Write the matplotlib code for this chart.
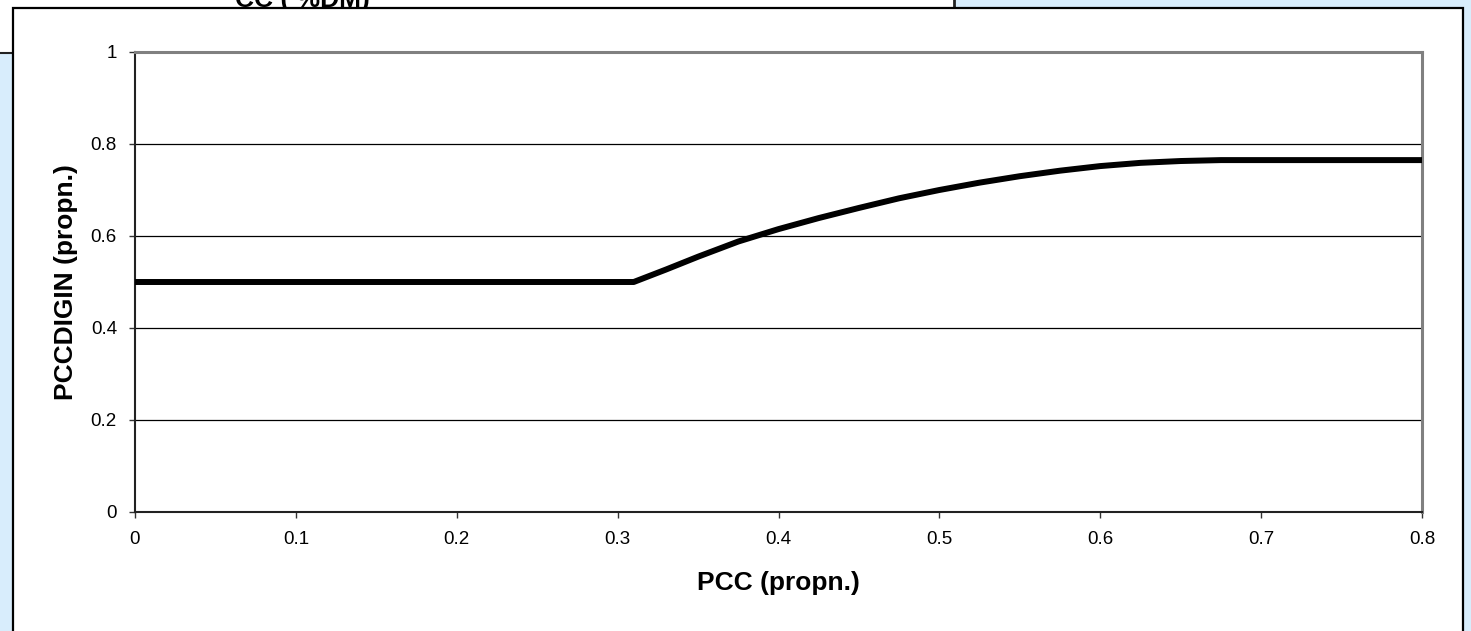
import matplotlib.pyplot as plt
import matplotlib.patches as patches
from matplotlib.lines import Line2D

W, H = 1471, 631

# curve
pcc = [0.0, 0.31, 0.33, 0.35, 0.375, 0.40, 0.425, 0.45, 0.475, 0.50,
       0.525, 0.55, 0.575, 0.60, 0.625, 0.65, 0.675, 0.80]
pccdigin = [0.5, 0.5, 0.527, 0.555, 0.588, 0.615, 0.639, 0.661, 0.682, 0.700,
            0.716, 0.730, 0.742, 0.752, 0.759, 0.763, 0.765, 0.765]

x_ticks = [0, 0.1, 0.2, 0.3, 0.4, 0.5, 0.6, 0.7, 0.8]
x_tick_labels = ["0", "0.1", "0.2", "0.3", "0.4", "0.5", "0.6", "0.7", "0.8"]
y_ticks = [0, 0.2, 0.4, 0.6, 0.8, 1.0]
y_tick_labels = ["0", "0.2", "0.4", "0.6", "0.8", "1"]

BLUE = "#D8EDFC"
FONT = "Liberation Sans"


def fx(px):
    return px / W


def fy(py):
    return 1 - py / H


fig = plt.figure(figsize=(W / 100, H / 100), dpi=100, facecolor=BLUE)

# bits of the neighbouring chart behind this one
fig.patches.append(
    patches.Rectangle((0, fy(8)), fx(954), 8 / H, transform=fig.transFigure,
                      facecolor="white", edgecolor="none", zorder=-3)
)
fig.patches.append(
    patches.Rectangle((0, fy(53)), fx(13), 53 / H, transform=fig.transFigure,
                      facecolor="white", edgecolor="none", zorder=-3)
)
fig.lines.append(Line2D([fx(954), fx(954)], [fy(0), fy(8)], transform=fig.transFigure,
                        color="#222222", lw=2, zorder=-2))
fig.lines.append(Line2D([0, fx(13)], [fy(53), fy(53)], transform=fig.transFigure,
                        color="#222222", lw=1.5, zorder=-2))
fig.text(fx(235), fy(7), "CC ( %DM)", fontsize=19, fontweight="bold",
         family=FONT, va="baseline", ha="left", zorder=-2)

# white chart frame
fig.patches.append(
    patches.Rectangle((fx(13), -0.05), fx(1463 - 13), fy(8) + 0.05, transform=fig.transFigure,
                      facecolor="white", edgecolor="black", lw=1.6, zorder=-1)
)

ax = fig.add_axes([fx(135), fy(512), fx(1422 - 135), (512 - 52) / H])
ax.set_facecolor("white")

ax.plot(pcc, pccdigin, color="black", lw=4.3, solid_capstyle="butt",
        solid_joinstyle="round", zorder=3)

ax.set_xlim(0, 0.8)
ax.set_ylim(0, 1)
ax.set_xticks(x_ticks)
ax.set_xticklabels(x_tick_labels, family=FONT, fontsize=13.5)
ax.set_yticks(y_ticks)
ax.set_yticklabels(y_tick_labels, family=FONT, fontsize=13.5)
ax.tick_params(axis="x", direction="out", length=4, width=1, pad=10, color="#333333")
ax.tick_params(axis="y", direction="out", length=4, width=1, pad=9, color="#333333")

for y in y_ticks[1:-1]:
    ax.axhline(y, color="black", lw=0.9, zorder=1)

ax.spines["top"].set_color("#808080")
ax.spines["top"].set_linewidth(2.2)
ax.spines["right"].set_color("#808080")
ax.spines["right"].set_linewidth(2.2)
ax.spines["left"].set_color("#222222")
ax.spines["left"].set_linewidth(1.5)
ax.spines["bottom"].set_color("#222222")
ax.spines["bottom"].set_linewidth(1.5)

ax.set_xlabel("PCC (propn.)", family=FONT, fontsize=19, fontweight="bold")
ax.set_ylabel("PCCDIGIN (propn.)", family=FONT, fontsize=19, fontweight="bold")
ax.xaxis.set_label_coords(0.5, -0.154)
ax.yaxis.set_label_coords(-0.054, 0.5)
ax.xaxis.label.set_va("center")
ax.yaxis.label.set_va("center")

fig.savefig("out.png", dpi=100, facecolor=BLUE)
